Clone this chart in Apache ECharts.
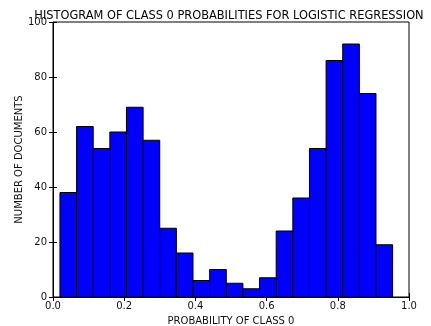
<!DOCTYPE html>
<html><head><meta charset="utf-8">
<script src="https://cdn.jsdelivr.net/npm/echarts@6/dist/echarts.min.js"></script>
<style>html,body{margin:0;padding:0;background:#fff}#c{width:431px;height:326px}</style>
</head><body><div id="c"></div>
<script>
const counts = [38, 62, 54, 60, 69, 57, 25, 16, 6, 10, 5, 3, 7, 24, 36, 54, 86, 92, 74, 19];
const binStart = 0.0195;
const binEnd = 0.954;
const xTicks = [0, 0.2, 0.4, 0.6, 0.8, 1.0];
const yTicks = [0, 20, 40, 60, 80, 100];

const binW = (binEnd - binStart) / counts.length;
const data = counts.map((c, i) => [binStart + i * binW, binStart + (i + 1) * binW, c]);
const font = 'DejaVu Sans';
const chart = echarts.init(document.getElementById('c'), null, {renderer: 'canvas'});
const tickCommon = {show: true, inside: true, length: 4, lineStyle: {color: '#000', width: 1}};
chart.setOption({
  animation: false,
  title: {text: 'HISTOGRAM OF CLASS 0 PROBABILITIES FOR LOGISTIC REGRESSION', left: 224, textAlign: 'center', top: 6,
    textStyle: {fontFamily: font, fontSize: 11.4, fontWeight: 'normal', color: '#000'}},
  grid: {left: 53, right: 22, top: 22, bottom: 29, show: true, borderColor: '#000', borderWidth: 1,
    containLabel: false, outerBoundsMode: 'none'},
  xAxis: [{type: 'value', min: 0, max: 1, interval: 0.2, position: 'bottom',
    name: 'PROBABILITY OF CLASS 0', nameLocation: 'middle', nameGap: 19, nameMoveOverlap: false,
    nameTextStyle: {fontFamily: font, fontSize: 10, color: '#111'},
    axisLine: {show: true, lineStyle: {color: '#000'}}, axisTick: tickCommon,
    axisLabel: {fontFamily: font, fontSize: 10, color: '#111', margin: 4, formatter: v => v.toFixed(1)},
    splitLine: {show: false}},
   {type: 'value', min: 0, max: 1, interval: 0.2, position: 'top',
    axisLine: {show: false}, axisTick: tickCommon, axisLabel: {show: false}, splitLine: {show: false}}],
  yAxis: [{type: 'value', min: 0, max: 100, interval: 20, position: 'left',
    name: 'NUMBER OF DOCUMENTS', nameLocation: 'middle', nameGap: 29, nameRotate: 90, nameMoveOverlap: false,
    nameTextStyle: {fontFamily: font, fontSize: 10, color: '#111'},
    axisLine: {show: true, lineStyle: {color: '#000'}}, axisTick: tickCommon,
    axisLabel: {fontFamily: font, fontSize: 10, color: '#111', margin: 6},
    splitLine: {show: false}},
   {type: 'value', min: 0, max: 100, interval: 20, position: 'right',
    axisLine: {show: false}, axisTick: tickCommon, axisLabel: {show: false}, splitLine: {show: false}}],
  series: [{type: 'custom', data: data, encode: {x: [0, 1], y: 2},
    renderItem: function (params, api) {
      const p0 = api.coord([api.value(0), api.value(2)]);
      const p1 = api.coord([api.value(1), 0]);
      return {type: 'rect', shape: {x: p0[0], y: p0[1], width: p1[0] - p0[0], height: p1[1] - p0[1]},
        style: {fill: '#0000ff', stroke: '#000', lineWidth: 1}};
    }}]
});
</script></body></html>
